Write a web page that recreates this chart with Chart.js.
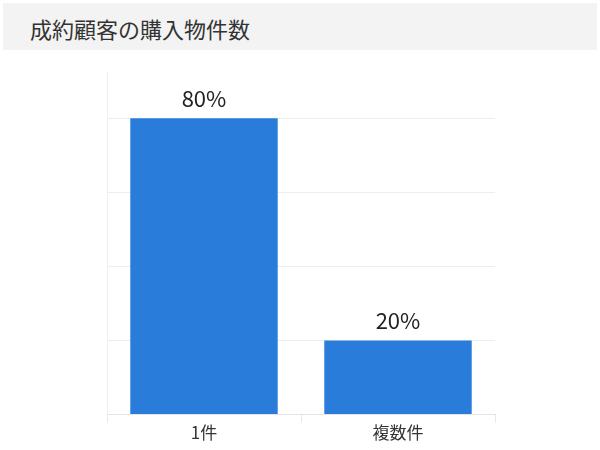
<!DOCTYPE html>
<html>
<head>
<meta charset="utf-8">
<script src="https://cdn.jsdelivr.net/npm/chart.js@4"></script>
<style>
  html, body { margin: 0; padding: 0; background: #fff; }
  body { width: 600px; height: 450px; position: relative; overflow: hidden; font-family: "Noto Sans CJK JP", "Noto Sans", sans-serif; }
  .title { position: absolute; left: 3px; top: 3px; width: 594px; height: 47px; background: #f3f3f3; }
  .title span { position: absolute; left: 27px; top: 12px; font-size: 22px; color: #333; line-height: 26px; }
  .box { position: absolute; left: 0; top: 60px; width: 600px; height: 390px; }
</style>
</head>
<body>
<div class="title"><span>成約顧客の購入物件数</span></div>
<div class="box"><canvas id="chart"></canvas></div>
<script>
// data
const categories = ['1件', '複数件'];
const shares = [80, 20];
const yTicks = [0, 20, 40, 60, 80];

// labels over the bars
const valueLabels = {
  id: 'valueLabels',
  afterDatasetsDraw(chart) {
    const ctx = chart.ctx;
    const meta = chart.getDatasetMeta(0);
    ctx.save();
    ctx.font = '22px "Noto Sans CJK JP", "Noto Sans", sans-serif';
    ctx.fillStyle = '#222';
    ctx.textAlign = 'center';
    ctx.textBaseline = 'bottom';
    meta.data.forEach((bar, i) => {
      ctx.fillText(shares[i] + '%', bar.x, bar.y - 9);
    });
    ctx.restore();
  }
};

new Chart(document.getElementById('chart'), {
  type: 'bar',
  data: {
    labels: categories,
    datasets: [{
      data: shares,
      backgroundColor: '#2a7cdb',
      categoryPercentage: 0.8,
      barPercentage: 0.95
    }]
  },
  options: {
    responsive: true,
    maintainAspectRatio: false,
    animation: false,
    layout: { padding: { left: 107, right: 105, top: 12, bottom: 7 } },
    plugins: { legend: { display: false }, tooltip: { enabled: false } },
    scales: {
      x: {
        grid: { drawOnChartArea: false, drawTicks: true, tickLength: 8, color: '#e8e8e8' },
        border: { color: '#e4e4e4', dash: [3, 3] },
        ticks: { color: '#333', font: { size: 17, family: '"Noto Sans CJK JP", "Noto Sans", sans-serif' }, padding: 0 }
      },
      y: {
        min: 0,
        max: 92.5,
        afterBuildTicks(axis) { axis.ticks = yTicks.map(v => ({ value: v })); },
        grid: { color: '#eeeeee', drawTicks: false },
        border: { color: '#eeeeee' },
        ticks: { display: false }
      }
    }
  },
  plugins: [valueLabels]
});
</script>
</body>
</html>
